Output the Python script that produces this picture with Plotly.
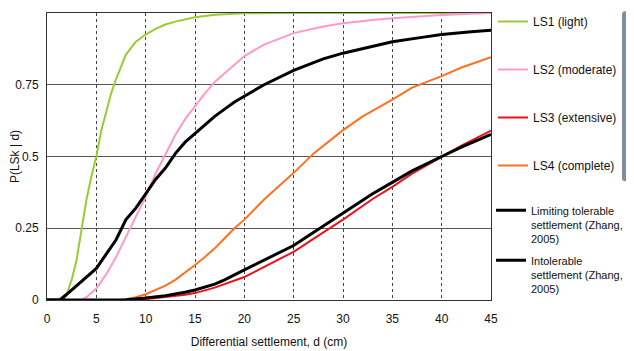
import plotly.graph_objects as go

# Differential settlement d (cm) and probabilities
ls1_x = [0, 1.7, 2, 2.5, 3, 3.5, 4, 4.5, 5, 5.5, 6, 6.5, 7, 8, 9, 10, 11, 12, 13, 14, 15, 17, 20, 25, 30, 35, 40, 45]
ls1_y = [0, 0, 0.02, 0.07, 0.14, 0.25, 0.35, 0.43, 0.5, 0.59, 0.66, 0.72, 0.77, 0.855, 0.9, 0.925, 0.945, 0.96, 0.97, 0.978, 0.985, 0.994, 0.999, 1, 1, 1, 1, 1]

ls2_x = [0, 3.5, 4, 5, 6, 7, 8, 9, 10, 11, 12, 13, 14, 15, 16, 17, 18, 20, 22, 25, 28, 30, 33, 35, 40, 45]
ls2_y = [0, 0, 0.01, 0.04, 0.09, 0.15, 0.22, 0.29, 0.36, 0.44, 0.51, 0.575, 0.63, 0.675, 0.72, 0.76, 0.79, 0.85, 0.89, 0.93, 0.953, 0.964, 0.976, 0.982, 0.993, 1.0]

ls3_x = [0, 9, 10, 12, 14, 15, 17, 20, 22, 25, 27, 30, 33, 35, 37, 40, 42, 45]
ls3_y = [0, 0, 0.003, 0.01, 0.018, 0.024, 0.043, 0.08, 0.115, 0.168, 0.213, 0.28, 0.352, 0.394, 0.44, 0.5, 0.538, 0.59]

ls4_x = [0, 7.4, 8, 9, 10, 11, 12, 13, 14, 15, 16, 17, 18, 19, 20, 22, 25, 27, 30, 32, 35, 37, 40, 42, 45]
ls4_y = [0, 0, 0.003, 0.01, 0.02, 0.035, 0.05, 0.07, 0.095, 0.122, 0.15, 0.18, 0.215, 0.25, 0.28, 0.35, 0.443, 0.51, 0.592, 0.64, 0.698, 0.74, 0.78, 0.81, 0.846]

lim_x = [0, 1.3, 2, 3, 4, 5, 6, 7, 8, 9, 10, 11, 12, 13, 14, 15, 16, 17, 18, 19, 20, 22, 25, 28, 30, 33, 35, 38, 40, 43, 45]
lim_y = [0, 0, 0.02, 0.05, 0.08, 0.11, 0.16, 0.21, 0.28, 0.32, 0.37, 0.42, 0.46, 0.51, 0.55, 0.58, 0.61, 0.64, 0.665, 0.69, 0.71, 0.75, 0.80, 0.84, 0.86, 0.885, 0.90, 0.915, 0.925, 0.935, 0.94]

intol_x = [0, 5, 8, 10, 12, 14, 15, 17, 18, 20, 22, 25, 27, 30, 33, 35, 37, 40, 42, 45]
intol_y = [0, 0, 0.001, 0.007, 0.015, 0.027, 0.035, 0.055, 0.07, 0.105, 0.14, 0.19, 0.235, 0.303, 0.37, 0.41, 0.45, 0.5, 0.533, 0.577]

x_ticks = [0, 5, 10, 15, 20, 25, 30, 35, 40, 45]
y_ticks = [0, 0.25, 0.5, 0.75, 1]
y_tick_text = ["0", "0.25", "0.5", "0.75", "1"]

FONT = "Arial, Liberation Sans, sans-serif"

fig = go.Figure()
# (name, x, y, colour, width, legend, legend rank); red drawn before black lines
series = [
    ("LS1 (light)", ls1_x, ls1_y, "#99CC33", 2, "legend", 1),
    ("LS2 (moderate)", ls2_x, ls2_y, "#FF99CC", 2, "legend", 2),
    ("LS4 (complete)", ls4_x, ls4_y, "#FF7020", 2, "legend", 4),
    ("LS3 (extensive)", ls3_x, ls3_y, "#E8141C", 2, "legend", 3),
    ("Limiting tolerable<br>settlement (Zhang,<br>2005)", lim_x, lim_y, "#000000", 3, "legend2", 5),
    ("Intolerable<br>settlement (Zhang,<br>2005)", intol_x, intol_y, "#000000", 3, "legend2", 6),
]
for name, xs, ys, col, w, lg, rank in series:
    fig.add_trace(go.Scatter(x=xs, y=ys, mode="lines", name=name,
                             line=dict(color=col, width=w),
                             legendgroup="g%d" % rank, legendrank=rank, legend=lg))

# page body has an 8px margin, so the plot area is shifted by 8px
fig.update_layout(
    width=634, height=343,
    margin=dict(l=39, r=151, t=5, b=51, autoexpand=False),
    paper_bgcolor="white", plot_bgcolor="white",
    font=dict(family=FONT, size=12, color="#111"),
    legend=dict(x=1.0045, xanchor="left", y=1.02, yanchor="top",
                xref="paper", yref="paper",
                traceorder="grouped", tracegroupgap=29,
                font=dict(family=FONT, size=12, color="#111"),
                bgcolor="rgba(0,0,0,0)", itemwidth=30, valign="top"),
    legend2=dict(x=1.0, xanchor="left", y=0.36, yanchor="top",
                 xref="paper", yref="paper",
                 traceorder="grouped", tracegroupgap=4,
                 font=dict(family=FONT, size=11, color="#111"),
                 bgcolor="rgba(0,0,0,0)", itemwidth=30, valign="top"),
)
fig.update_xaxes(range=[0, 45], tickvals=x_ticks, ticks="", automargin=False,
                 ticklabelstandoff=8,
                 showgrid=True, gridcolor="#444", griddash="dot", gridwidth=1,
                 showline=True, linecolor="#333", linewidth=1, mirror=True,
                 zeroline=False,
                 title=dict(text="Differential settlement, d (cm)", font=dict(size=12), standoff=12),
                 tickfont=dict(size=12))
fig.update_yaxes(range=[0, 1], tickvals=y_ticks, ticktext=y_tick_text, ticks="", automargin=False,
                 ticklabelstandoff=5,
                 showgrid=True, gridcolor="#555", gridwidth=1,
                 showline=True, linecolor="#333", linewidth=1, mirror=True,
                 zeroline=False,
                 title=dict(text="P(LSk | d)", font=dict(size=12), standoff=6),
                 tickfont=dict(size=12))

fig.write_html("out.html")
